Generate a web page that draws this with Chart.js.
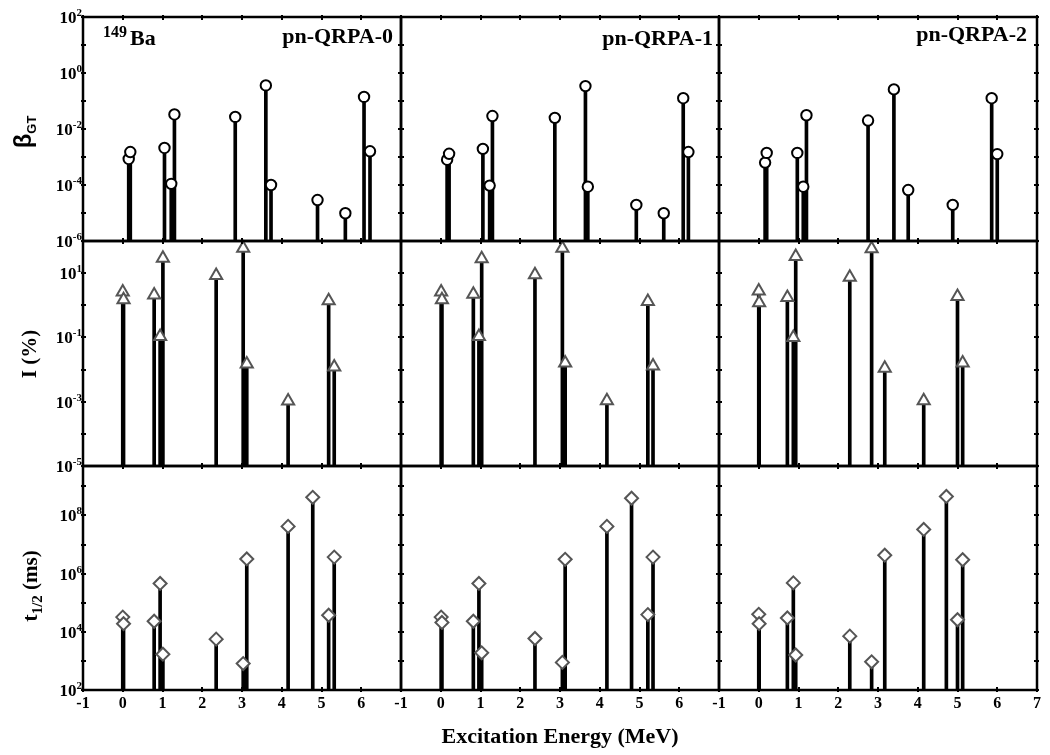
<!DOCTYPE html>
<html>
<head>
<meta charset="utf-8">
<title>149Ba beta-decay properties</title>
<script src="https://cdn.jsdelivr.net/npm/chart.js@4.4.1/dist/chart.umd.min.js"></script>
<style>
  html, body { margin: 0; padding: 0; background: #fff; }
  #wrap { position: relative; width: 1050px; height: 755px; overflow: hidden; background: #fff; }
  #wrap canvas { position: absolute; left: 0; top: 0; }
</style>
</head>
<body>
<div id="wrap"></div>
<script>
// ---- labels ----
const modelNames = ['pn-QRPA-0', 'pn-QRPA-1', 'pn-QRPA-2'];
const nucleusMass = '149';
const nucleusSymbol = 'Ba';
const xTitle = 'Excitation Energy (MeV)';
const xTickValues = [-1, 0, 1, 2, 3, 4, 5, 6, 7];

// ---- y tick exponents (labelled powers of ten) ----
const betaTickExps = [2, 0, -2, -4, -6];
const intensityTickExps = [1, -1, -3, -5];
const halfLifeTickExps = [2, 4, 6, 8];

// ---- B(GT) strengths ----
const betaE0 = [0.15, 0.19, 1.05, 1.22, 1.30, 2.83, 3.60, 3.73, 4.90, 5.60, 6.07, 6.22];
const betaV0 = [8.5e-4, 1.5e-3, 2.1e-3, 1.1e-4, 3.3e-2, 2.7e-2, 0.36, 1.0e-4, 2.9e-5, 9.8e-6, 0.14, 1.6e-3];
const betaE1 = [0.16, 0.21, 1.06, 1.23, 1.30, 2.87, 3.64, 3.70, 4.92, 5.61, 6.10, 6.23];
const betaV1 = [8.0e-4, 1.3e-3, 1.95e-3, 9.5e-5, 2.9e-2, 2.5e-2, 0.34, 8.7e-5, 1.95e-5, 9.8e-6, 0.126, 1.5e-3];
const betaE2 = [0.16, 0.20, 0.97, 1.12, 1.20, 2.75, 3.40, 3.76, 4.88, 5.86, 6.00];
const betaV2 = [6.3e-4, 1.4e-3, 1.4e-3, 8.7e-5, 3.1e-2, 2.0e-2, 0.26, 6.6e-5, 1.95e-5, 0.126, 1.27e-3];

// ---- branching intensities I (%) ----
const intE0 = [0.00, 0.02, 0.79, 0.94, 1.01, 2.35, 3.03, 3.12, 4.16, 5.18, 5.32];
const intV0 = [2.6, 1.5, 2.1, 0.107, 29, 8.5, 60, 0.015, 1.05e-3, 1.38, 0.012];
const intE1 = [0.01, 0.03, 0.82, 0.96, 1.03, 2.37, 3.06, 3.13, 4.18, 5.21, 5.34];
const intV1 = [2.6, 1.5, 2.2, 0.107, 28, 8.9, 60, 0.016, 1.07e-3, 1.3, 0.013];
const intE2 = [0.00, 0.01, 0.72, 0.87, 0.93, 2.29, 2.84, 3.17, 4.15, 5.00, 5.13];
const intV2 = [2.8, 1.2, 1.74, 0.10, 33, 7.5, 57, 0.011, 1.07e-3, 1.87, 0.016];

// ---- partial half-lives t1/2 (ms) ----
const halfE0 = [0.00, 0.02, 0.79, 0.94, 1.01, 2.35, 3.03, 3.12, 4.16, 4.78, 5.18, 5.32];
const halfV0 = [3.2e4, 1.9e4, 2.3e4, 4.6e5, 1.7e3, 5.6e3, 8.1e2, 3.2e6, 4.2e7, 4.2e8, 3.7e4, 3.7e6];
const halfE1 = [0.01, 0.03, 0.82, 0.96, 1.03, 2.37, 3.06, 3.13, 4.18, 4.80, 5.21, 5.34];
const halfV1 = [3.2e4, 2.1e4, 2.3e4, 4.6e5, 1.9e3, 5.9e3, 8.9e2, 3.1e6, 4.2e7, 3.9e8, 3.9e4, 3.7e6];
const halfE2 = [0.00, 0.01, 0.72, 0.87, 0.93, 2.29, 2.84, 3.17, 4.15, 4.72, 5.00, 5.13];
const halfV2 = [4.0e4, 1.9e4, 3.0e4, 4.8e5, 1.6e3, 7.1e3, 9.3e2, 4.3e6, 3.3e7, 4.5e8, 2.6e4, 3.0e6];

// ---- page layout ----
const W = 1050, H = 755;
const COL_LEFT = [83, 401, 719];
const PANEL_W = 318;
const ROW_TOP = [17, 241, 466];
const ROW_BOTTOM = [241, 466, 690];
const SERIF = '"Liberation Serif", "Times New Roman", serif';
const SANS = '"Liberation Sans", Arial, sans-serif';

const rows = [
  { energies: [betaE0, betaE1, betaE2], values: [betaV0, betaV1, betaV2],
    min: 1e-6, max: 1e2, tickExps: betaTickExps,
    style: 'circle', radius: 5.2, edge: '#000' },
  { energies: [intE0, intE1, intE2], values: [intV0, intV1, intV2],
    min: 1e-5, max: 1e2, tickExps: intensityTickExps,
    style: 'triangle', radius: 7, edge: '#555' },
  { energies: [halfE0, halfE1, halfE2], values: [halfV0, halfV1, halfV2],
    min: 1e2, max: 5e9, tickExps: halfLifeTickExps,
    style: 'rectRot', radius: 6.5, edge: '#555' }
];

const titleAnchor = [[393, 43], [713, 45], [1027, 41]];

function powerLabel(ctx, exp, xRight, y) {
  const big = 'bold 17px ' + SERIF, small = 'bold 11px ' + SERIF;
  ctx.font = big; const wb = ctx.measureText('10').width;
  const es = String(exp);
  ctx.font = small; const we = ctx.measureText(es).width;
  const x0 = xRight - wb - we;
  ctx.textAlign = 'left'; ctx.textBaseline = 'alphabetic';
  ctx.font = big; ctx.fillText('10', x0, y + 6);
  ctx.font = small; ctx.fillText(es, x0 + wb, y - 1);
}

// draws pieces [text, font, baselineShift] along a rotated (bottom-to-top) line centred at cy
function verticalText(ctx, pieces, baseX, cy) {
  ctx.save();
  ctx.translate(baseX, cy);
  ctx.rotate(-Math.PI / 2);
  ctx.textAlign = 'left'; ctx.textBaseline = 'alphabetic';
  let total = 0;
  pieces.forEach(p => { ctx.font = p[1]; total += ctx.measureText(p[0]).width; });
  let x = -total / 2;
  pieces.forEach(p => { ctx.font = p[1]; ctx.fillText(p[0], x, p[2]); x += ctx.measureText(p[0]).width; });
  ctx.restore();
}

const panelDecor = {
  id: 'panelDecor',
  afterDraw(chart) {
    const { ctx, chartArea: a, scales } = chart;
    const { col, row } = chart.options.plugins.panelDecor;
    const cfg = rows[row];
    ctx.save();
    ctx.fillStyle = '#000';
    ctx.strokeStyle = '#000';

    // tick marks at every decade and every integer MeV
    ctx.lineWidth = 2;
    ctx.beginPath();
    const eLo = Math.ceil(Math.log10(cfg.min) - 1e-9), eHi = Math.floor(Math.log10(cfg.max) + 1e-9);
    for (let e = eLo; e <= eHi; e++) {
      const y = Math.round(scales.y.getPixelForValue(Math.pow(10, e)));
      ctx.moveTo(a.left - 2, y); ctx.lineTo(a.left + 3, y);
      ctx.moveTo(a.right - 3, y); ctx.lineTo(a.right + 2, y);
    }
    xTickValues.forEach(v => {
      const x = Math.round(scales.x.getPixelForValue(v));
      ctx.moveTo(x, a.bottom + 2); ctx.lineTo(x, a.bottom - 3);
      ctx.moveTo(x, a.top - 2); ctx.lineTo(x, a.top + 3);
    });
    ctx.stroke();

    // panel frame
    ctx.lineWidth = 2.5;
    ctx.strokeRect(a.left, a.top, a.right - a.left, a.bottom - a.top);

    // y tick labels on the first column
    if (col === 0) {
      cfg.tickExps.forEach(e => {
        powerLabel(ctx, e, a.left - 1, scales.y.getPixelForValue(Math.pow(10, e)));
      });
    }
    // x tick labels on the bottom row
    if (row === 2) {
      ctx.font = 'bold 16px ' + SERIF;
      ctx.textAlign = 'center'; ctx.textBaseline = 'alphabetic';
      xTickValues.forEach(v => {
        if (v === 7 && col < 2) return;
        ctx.fillText(String(v), scales.x.getPixelForValue(v), 708);
      });
      if (col === 1) {
        ctx.font = 'bold 22px ' + SERIF;
        ctx.fillText(xTitle, 560, 743);
      }
    }
    // model names and nucleus tag on the top row
    if (row === 0) {
      ctx.font = 'bold 22px ' + SERIF;
      ctx.textAlign = 'right'; ctx.textBaseline = 'alphabetic';
      ctx.fillText(modelNames[col], titleAnchor[col][0], titleAnchor[col][1]);
      if (col === 0) {
        ctx.textAlign = 'left';
        ctx.font = 'bold 16px ' + SERIF;
        ctx.fillText(nucleusMass, 103, 37);
        const wm = ctx.measureText(nucleusMass).width;
        ctx.font = 'bold 22px ' + SERIF;
        ctx.fillText(nucleusSymbol, 103 + wm + 3, 45);
      }
    }
    // y axis titles
    if (col === 0) {
      if (row === 0) {
        verticalText(ctx, [['\u03B2', 'bold 24px ' + SANS, 0], ['GT', 'bold 13px ' + SANS, 5]], 31, 132);
      } else if (row === 1) {
        verticalText(ctx, [['I (%)', 'bold 21px ' + SERIF, 0]], 36, 354);
      } else {
        verticalText(ctx, [['t', 'bold 22px ' + SERIF, 0], ['1/2', 'bold 15px ' + SERIF, 5], [' (ms)', 'bold 21px ' + SERIF, 0]], 37, 586);
      }
    }
    ctx.restore();
  }
};

const wrap = document.getElementById('wrap');

function makePanel(col, row) {
  const cfg = rows[row];
  const canvas = document.createElement('canvas');
  canvas.width = W; canvas.height = H;
  canvas.style.width = W + 'px'; canvas.style.height = H + 'px';
  wrap.appendChild(canvas);
  const xs = cfg.energies[col], ys = cfg.values[col];
  const pts = xs.map((x, i) => ({ x: x, y: ys[i] }));
  const left = COL_LEFT[col], right = left + PANEL_W;
  new Chart(canvas, {
    type: 'bar',
    data: {
      datasets: [
        {
          type: 'scatter', data: pts, order: 0, clip: false,
          pointStyle: cfg.style, pointRadius: cfg.radius, pointHoverRadius: cfg.radius,
          pointBorderWidth: 2, pointBorderColor: cfg.edge, pointBackgroundColor: '#fff'
        },
        {
          type: 'bar', data: pts, order: 1,
          backgroundColor: '#000', borderWidth: 0, barThickness: 3
        }
      ]
    },
    options: {
      responsive: false, animation: false, devicePixelRatio: 1,
      events: [],
      layout: { padding: { left: left, top: ROW_TOP[row], right: W - right, bottom: H - ROW_BOTTOM[row] } },
      plugins: { legend: { display: false }, tooltip: { enabled: false }, panelDecor: { col: col, row: row } },
      scales: {
        x: { type: 'linear', min: -1, max: 7, offset: false, display: false },
        y: { type: 'logarithmic', min: cfg.min, max: cfg.max, display: false }
      }
    },
    plugins: [panelDecor]
  });
}

for (let r = 0; r < 3; r++) {
  for (let c = 0; c < 3; c++) makePanel(c, r);
}
</script>
</body>
</html>
